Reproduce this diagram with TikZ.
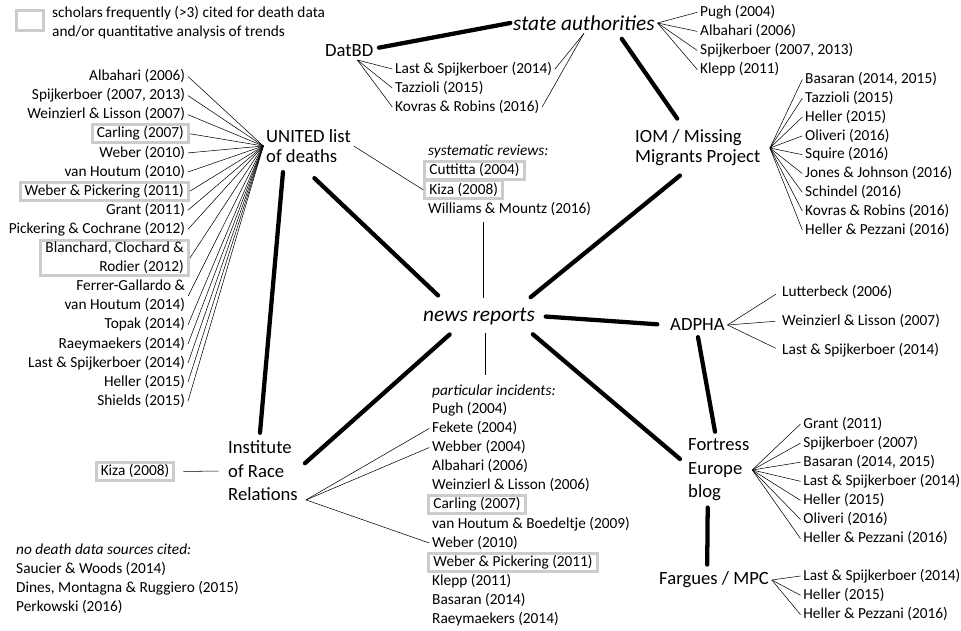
\documentclass[tikz,border=0pt]{standalone}
\usepackage{fontspec}
\setmainfont{Carlito}
\usepackage{tikz}

\definecolor{boxgray}{RGB}{204,204,204}
\newcommand{\reffont}{\fontsize{11.5}{14.3}\selectfont}

\begin{document}
\begin{tikzpicture}[x=0.75pt, y=-0.75pt,
    ref/.style={font=\reffont, inner sep=2pt, text height=8.6pt, text depth=2.4pt},
    refm/.style={font=\reffont, inner sep=2pt, align=right},
    note/.style={ref, font=\reffont\itshape},
    cited/.style={draw=boxgray, line width=2.25pt, inner xsep=3.5pt, inner ysep=1.3pt},
    hub/.style={font=\fontsize{14}{15}\selectfont, inner sep=2pt, align=left},
    hubwide/.style={hub, font=\fontsize{14}{17.6}\selectfont},
    media/.style={font=\fontsize{16}{19}\selectfont\itshape, inner sep=2pt},
    link/.style={line width=3.2pt, line cap=round},
    cite/.style={line width=0.4pt}]
\useasboundingbox (0,0) rectangle (961,631);

% legend
\node[draw=boxgray, line width=2.25pt, minimum width=20.25pt, minimum height=15pt, inner sep=0pt] (key) at (30,20.5) {};
\node[font=\reffont, inner sep=2pt, align=left, anchor=north west] (keytext) at (49.3,3.3)
    {scholars frequently (>3) cited for death data\\and/or quantitative analysis of trends};

% main sources
\node[media, anchor=west] (news) at (420.3,316) {news reports};
\node[media, anchor=west] (state) at (510.3,23) {state authorities};
\node[hub, anchor=west] (datbd) at (322.3,51) {DatBD};
\node[hub, anchor=west] (united) at (263.3,146) {UNITED list\\of deaths};
\node[hub, anchor=west] (iom) at (632.3,148) {IOM / Missing\\Migrants Project};
\node[hub, anchor=west] (adpha) at (667.3,325) {ADPHA};
\node[hubwide, anchor=west] (institute) at (225.3,471) {Institute\\of Race\\Relations};
\node[hubwide, anchor=west] (fortress) at (685.3,470) {Fortress\\Europe\\blog};
\node[hub, anchor=west] (fargues) at (656.3,580) {Fargues / MPC};

\draw[link, shorten <=2pt] (datbd.6) -- (state.west);
\draw[link, shorten <=5pt, shorten >=7.7pt] (state.-17) -- (iom.125);
\draw[link, shorten <=8.8pt, shorten >=7.8pt] (news.15) -- (iom.-115);
\draw[link, shorten <=10pt, shorten >=13.8pt] (news.160) -- (united.-111);
\draw[link, shorten <=5pt, shorten >=4pt] (united.-142) -- (institute.96);
\draw[link, shorten <=8pt, shorten >=4.3pt] (news.-152) -- (institute.6);
\draw[link, shorten <=6pt, shorten >=7.5pt] (news.east) -- (adpha.west);
\draw[link, shorten <=8pt, shorten >=5.2pt] (news.-14) -- (fortress.169);
\draw[link, shorten <=2.5pt, shorten >=3.3pt] (adpha.south) -- (fortress.95);
\draw[link, shorten <=2.7pt, shorten >=3.3pt] (fortress.-108) -- (fargues.122);

% UNITED list
\foreach \r/\txt in {0/Albahari (2006), 1/{Spijkerboer (2007, 2013)}, 2/Weinzierl \& Lisson (2007),
    4/Weber (2010), 5/van Houtum (2010), 7/Grant (2011), 8/Pickering \& Cochrane (2012),
    13/Topak (2014), 14/Raeymaekers (2014), 15/Last \& Spijkerboer (2014), 16/Heller (2015), 17/Shields (2015)}
    \node[ref, anchor=east] (ul\r) at (188,76.5+19.1*\r) {\txt};
\node[ref, cited, anchor=east] (ul3) at (190,76.5+19.1*3) {Carling (2007)};
\node[ref, cited, anchor=east] (ul6) at (190,76.5+19.1*6) {Weber \& Pickering (2011)};
\node[refm, cited, anchor=east] (ul9) at (190,76.5+19.1*9.5) {Blanchard, Clochard \&\\Rodier (2012)};
\node[refm, anchor=east] (ul11) at (188,76.5+19.1*11.5) {Ferrer-Gallardo \&\\van Houtum (2014)};
\foreach \r in {0,...,9,11,13,14,15,16,17}
    \draw[cite] (ul\r.east) -- (united.west);

% DatBD and state authorities
\foreach \r/\txt in {0/Last \& Spijkerboer (2014), 1/Tazzioli (2015), 2/Kovras \& Robins (2016)} {
    \node[ref, anchor=west] (db\r) at (392.3,69+19*\r) {\txt};
    \draw[cite] ([xshift=6pt]datbd.south) -- (db\r.west);
}
\foreach \r in {0,2}
    \draw[cite] (state.south) -- (db\r.east);
\foreach \r/\txt in {0/Pugh (2004), 1/Albahari (2006), 2/{Spijkerboer (2007, 2013)}, 3/Klepp (2011)} {
    \node[ref, anchor=west] (sa\r) at (697.3,12.3+19.1*\r) {\txt};
    \draw[cite] (state.east) -- (sa\r.west);
}

% IOM
\foreach \r/\txt in {0/{Basaran (2014, 2015)}, 1/Tazzioli (2015), 2/Heller (2015), 3/Oliveri (2016),
    4/Squire (2016), 5/Jones \& Johnson (2016), 6/Schindel (2016), 7/Kovras \& Robins (2016), 8/Heller \& Pezzani (2016)} {
    \node[ref, anchor=west] (mm\r) at (802.3,79.5+18.8*\r) {\txt};
    \draw[cite] ([xshift=5pt]iom.east) -- (mm\r.west);
}

% systematic reviews
\node[note, anchor=west] (sysrev) at (425.3,151.7) {systematic reviews:};
\node[ref, cited, anchor=west] (cuttitta) at (423.3,170.8) {Cuttitta (2004)};
\node[ref, cited, anchor=west] (kiza1) at (423.3,189.9) {Kiza (2008)};
\node[ref, anchor=west] (williams) at (425.3,209) {Williams \& Mountz (2016)};
\draw[cite] (united.east) -- (kiza1.west);
\draw[cite, shorten <=5pt, shorten >=2pt] ([xshift=3pt]news.north) -- ([xshift=3pt]news.north |- williams.south);

% ADPHA
\foreach \r/\txt in {0/Lutterbeck (2006), 1/Weinzierl \& Lisson (2007), 2/Last \& Spijkerboer (2014)} {
    \node[ref, anchor=west] (ad\r) at (779.3,292+29*\r) {\txt};
    \draw[cite, shorten >=3pt] (adpha.east) -- (ad\r.west);
}

% Fortress Europe and Fargues
\foreach \r/\txt in {0/Grant (2011), 1/Spijkerboer (2007), 2/{Basaran (2014, 2015)}, 3/Last \& Spijkerboer (2014),
    4/Heller (2015), 5/Oliveri (2016), 6/Heller \& Pezzani (2016)} {
    \node[ref, anchor=west] (fe\r) at (800.5,424+19.1*\r) {\txt};
    \draw[cite] (fortress.east) -- (fe\r.west);
}
\foreach \r/\txt in {0/Last \& Spijkerboer (2014), 1/Heller (2015), 2/Heller \& Pezzani (2016)} {
    \node[ref, anchor=west] (mp\r) at (800.5,576+19.3*\r) {\txt};
    \draw[cite] (fargues.east) -- (mp\r.west);
}

% particular incidents
\node[note, anchor=west] (partic) at (429.3,391) {particular incidents:};
\foreach \r/\txt in {1/Pugh (2004), 2/Fekete (2004), 3/Webber (2004), 4/Albahari (2006), 5/Weinzierl \& Lisson (2006),
    7/van Houtum \& Boedeltje (2009), 8/Weber (2010), 10/Klepp (2011), 11/Basaran (2014), 12/Raeymaekers (2014)}
    \node[ref, anchor=west] (pi\r) at (429.3,390.2+19.1*\r) {\txt};
\node[ref, cited, anchor=west] (pi6) at (427.3,390.2+19.1*6) {Carling (2007)};
\node[ref, cited, anchor=west] (pi9) at (427.3,390.2+19.1*9) {Weber \& Pickering (2011)};
\draw[cite, shorten <=4.5pt, shorten >=4.5pt] ([xshift=5pt]news.south) -- ([xshift=5pt]news.south |- partic.north);
\foreach \r in {2,3,8}
    \draw[cite] ([xshift=4pt,yshift=3pt]institute.south east) -- (pi\r.west);

% Institute of Race Relations
\node[ref, cited] (kiza2) at (135,471.5) {Kiza (2008)};
\draw[cite, shorten <=6pt, shorten >=5pt] (kiza2.east) -- (institute.west);

% no data
\node[note, anchor=west] (nodata) at (13.3,550) {no death data sources cited:};
\foreach \r/\txt in {1/Saucier \& Woods (2014), 2/{Dines, Montagna \& Ruggiero (2015)}, 3/Perkowski (2016)}
    \node[ref, anchor=west] (nd\r) at (13.3,550+19.2*\r) {\txt};
\end{tikzpicture}
\end{document}
